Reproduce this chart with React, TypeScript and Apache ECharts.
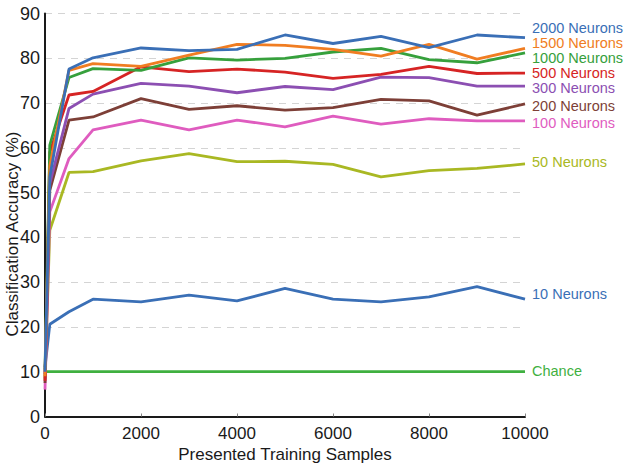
import React, { useEffect, useRef } from "react";
import * as echarts from "echarts";

const xSamples = [0, 100, 500, 1000, 2000, 3000, 4000, 5000, 6000, 7000, 8000, 9000, 10000];

const n2000 = [10, 53.5, 77.6, 80.1, 82.3, 81.7, 82.0, 85.2, 83.3, 84.9, 82.4, 85.2, 84.6];
const n1500 = [9, 56, 77.3, 78.8, 78.2, 80.7, 83.1, 82.9, 82.0, 80.5, 83.1, 79.8, 82.2];
const n1000 = [10.5, 60.6, 75.7, 77.7, 77.3, 80.1, 79.6, 80.0, 81.4, 82.2, 79.7, 79.0, 81.2];
const n500 = [8, 59, 71.8, 72.6, 78.1, 77.0, 77.6, 76.9, 75.5, 76.4, 78.2, 76.6, 76.7];
const n300 = [9.5, 52, 68.8, 72.0, 74.4, 73.8, 72.3, 73.7, 73.0, 75.8, 75.7, 73.8, 73.8];
const n200 = [7.5, 50.5, 66.2, 66.9, 71.0, 68.6, 69.4, 68.4, 69.0, 70.8, 70.5, 67.3, 69.8];
const n100 = [6, 45.7, 57.6, 64.0, 66.2, 64.0, 66.2, 64.7, 67.1, 65.3, 66.5, 66.0, 66.0];
const n50 = [8.5, 41.6, 54.5, 54.7, 57.1, 58.7, 56.9, 57.0, 56.3, 53.5, 54.9, 55.4, 56.4];
const n10 = [11, 20.6, 23.4, 26.2, 25.6, 27.1, 25.8, 28.6, 26.2, 25.6, 26.7, 29.0, 26.2];
const chanceX = [0, 10000];
const chance = [10, 10];

const seriesNames = [
  "2000 Neurons",
  "1500 Neurons",
  "1000 Neurons",
  "500 Neurons",
  "300 Neurons",
  "200 Neurons",
  "100 Neurons",
  "50 Neurons",
  "10 Neurons",
  "Chance",
];
const seriesValues = [n2000, n1500, n1000, n500, n300, n200, n100, n50, n10];
const colors = [
  "#3a6fb6",
  "#f07d22",
  "#36a03c",
  "#d62424",
  "#8c4fb2",
  "#7d3f37",
  "#df5cbf",
  "#a9b823",
  "#3a6fb6",
  "#3fb040",
];
const labelY = [28, 43, 58, 73, 88, 106, 123, 162, 294, 371];

const FONT = "Liberation Sans, Arial, Helvetica, sans-serif";

export default function App() {
  const ref = useRef<HTMLDivElement>(null);
  useEffect(() => {
    if (!ref.current) return;
    const chart = echarts.init(ref.current, null, { renderer: "svg" });
    const series: any[] = seriesValues.map((vals, i) => ({
      name: seriesNames[i],
      type: "line",
      data: xSamples.map((x, j) => [x, vals[j]]),
      symbol: "none",
      lineStyle: { color: colors[i], width: 2.8 },
      z: 10 - i,
    }));
    series.push({
      name: "Chance",
      type: "line",
      data: chanceX.map((x, j) => [x, chance[j]]),
      symbol: "none",
      lineStyle: { color: colors[9], width: 2.8 },
      z: 1,
    });
    const graphic: any[] = seriesNames.map((name, i) => ({
      type: "text",
      x: 532,
      y: labelY[i],
      style: {
        text: name,
        fill: colors[i],
        font: `14.5px ${FONT}`,
        lineHeight: 13,
        verticalAlign: "middle",
      },
    }));
    graphic.push({
      type: "text",
      x: 12,
      y: 234,
      rotation: Math.PI / 2,
      style: {
        text: "Classification Accuracy (%)",
        fill: "#1a1a1a",
        font: `17px ${FONT}`,
        align: "center",
        verticalAlign: "middle",
      },
    });
    chart.setOption({
      animation: false,
      backgroundColor: "#ffffff",
      grid: { left: 45, right: 105, top: 13.5, bottom: 53.5 },
      xAxis: {
        type: "value",
        min: 0,
        max: 10000,
        interval: 2000,
        name: "Presented Training Samples",
        nameLocation: "middle",
        nameGap: 29,
        nameTextStyle: { fontSize: 17, color: "#1a1a1a", fontFamily: FONT },
        axisLine: { show: true, onZero: false, lineStyle: { color: "#1a1a1a", width: 2 } },
        axisTick: { show: true, inside: true, length: 3, lineStyle: { color: "#888" } },
        axisLabel: {
          fontSize: 17,
          color: "#1a1a1a",
          fontFamily: FONT,
          margin: 8,
          formatter: (v: number) => String(v),
        },
        splitLine: { show: false },
      },
      yAxis: {
        type: "value",
        min: 0,
        max: 90,
        interval: 10,
        axisLine: { show: true, onZero: false, lineStyle: { color: "#1a1a1a", width: 2 } },
        axisTick: { show: false },
        axisLabel: { fontSize: 18, color: "#1a1a1a", fontFamily: FONT, margin: 5 },
        splitLine: {
          show: true,
          lineStyle: { color: "#d4d4d4", type: [7, 6], width: 1 },
        },
      },
      series,
      graphic,
    });
    return () => chart.dispose();
  }, []);
  return <div ref={ref} style={{ width: 630, height: 470, position: "absolute", left: 0, top: 0 }} />;
}
